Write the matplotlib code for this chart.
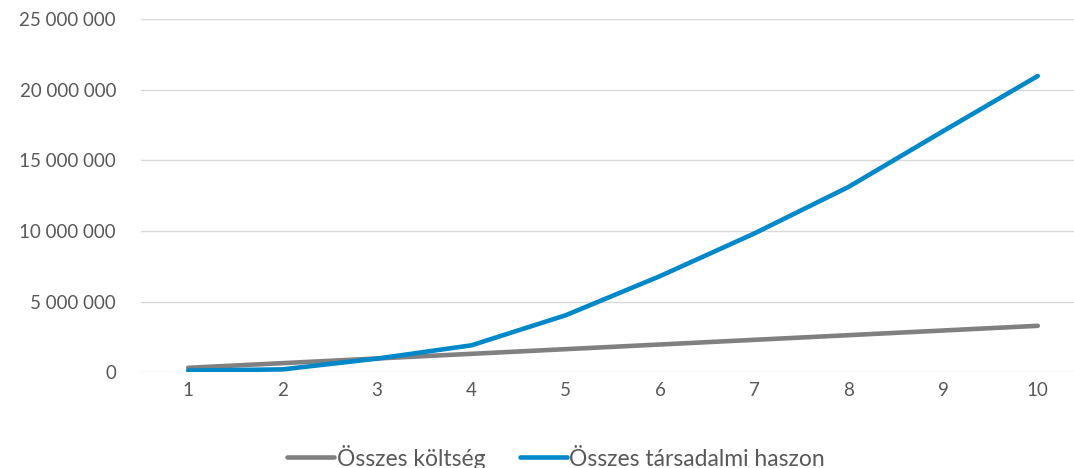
import matplotlib
matplotlib.use('Agg')
import matplotlib.pyplot as plt
from matplotlib.ticker import FuncFormatter

# Data
years = [1, 2, 3, 4, 5, 6, 7, 8, 9, 10]
cost = [330000, 660000, 990000, 1320000, 1650000, 1980000, 2310000, 2640000, 2970000, 3300000]
benefit = [130000, 220000, 980000, 1920000, 4050000, 6820000, 9840000, 13140000, 17080000, 20970000]
labels = ['Összes költség', 'Összes társadalmi haszon']

plt.rcParams['font.family'] = ['Lato', 'DejaVu Sans']
text_color = '#595959'

fig = plt.figure(figsize=(10.74, 4.68), dpi=100)
ax = fig.add_axes([0.1313, 0.2041, 0.8789, 0.7553])

ax.plot(years, cost, color='#808080', lw=3.3, solid_capstyle='round', label=labels[0])
ax.plot(years, benefit, color='#0088c9', lw=3.3, solid_capstyle='round', label=labels[1])

ax.set_xlim(0.5, 10.5)
ax.set_ylim(0, 25000000)
ax.set_yticks(range(0, 25000001, 5000000))
ax.set_xticks(years)
ax.yaxis.set_major_formatter(FuncFormatter(lambda v, p: f'{int(v):,}'.replace(',', ' ')))

ax.grid(axis='y', color='#d9d9d9', lw=1)
ax.set_axisbelow(True)
for s in ax.spines.values():
    s.set_visible(False)
ax.tick_params(axis='both', length=0, labelsize=13.5, colors=text_color)
ax.tick_params(axis='y', pad=18)
ax.tick_params(axis='x', pad=7)

fig.legend(loc='center', bbox_to_anchor=(556 / 1074, 1 - 457 / 468), ncol=2,
           frameon=False, fontsize=16.5, labelcolor=text_color,
           handlelength=2.05, handletextpad=0.1, columnspacing=1.5)

fig.savefig('out.png', dpi=100)
